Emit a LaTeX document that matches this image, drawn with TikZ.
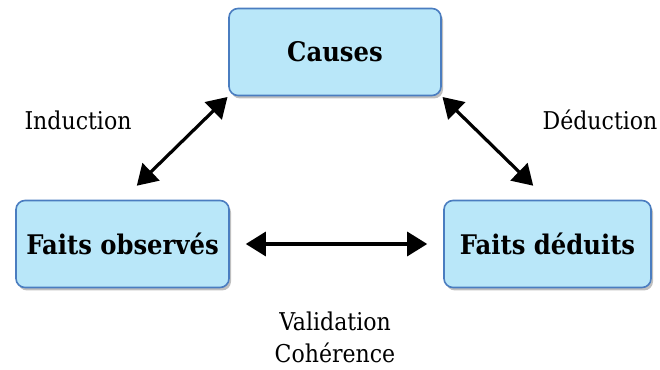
\documentclass[tikz,border=0pt]{standalone}
\usepackage{fontspec}
\setmainfont{DejaVu Serif Condensed}
\usetikzlibrary{arrows.meta,shadows}

\definecolor{boxfill}{HTML}{B9E7F9}
\definecolor{boxline}{HTML}{4A7DC0}

\begin{document}
\begin{tikzpicture}[x=1pt, y=1pt]
        \tikzset{Etat/.style={shape=rectangle, draw=boxline, line width=1.6pt, fill=boxfill, rounded corners=9pt, minimum height=87pt, font=\fontsize{27}{32}\selectfont\bfseries, drop shadow={shadow xshift=2pt, shadow yshift=-3pt, opacity=0.5}}}
        \tikzset{Lien/.style={line width=3.2pt, {Triangle[length=20pt, width=24pt]}-{Triangle[length=20pt, width=24pt]}}}
        \tikzset{Etiq/.style={font=\fontsize{24.5}{32}\selectfont}}
        \useasboundingbox (0,0) rectangle (660,369);

        % nodes
        \node[Etat, minimum width=212pt] (causes) at (335, 317) {Causes};
        \node[Etat, minimum width=213pt] (obs) at (122.5, 125) {Faits observés};
        \node[Etat, minimum width=207pt] (ded) at (547.5, 125) {Faits déduits};

        \node[Etiq] (ind) at (78, 249) {Induction};
        \node[Etiq] (dedu) at (600, 249) {Déduction};
        \node[Etiq, align=center, inner sep=0pt] (valid) at (335, 32) {Validation\\Cohérence};

        % arrows
        \draw[Lien, shorten <=20pt, shorten >=1pt] (obs.north) -- (causes.south west);
        \draw[Lien, shorten <=1pt, shorten >=20pt] (causes.south east) -- (ded.north);
        \draw[Lien, shorten <=16pt, shorten >=16pt] (obs.east) -- (ded.west);
\end{tikzpicture}
\end{document}
